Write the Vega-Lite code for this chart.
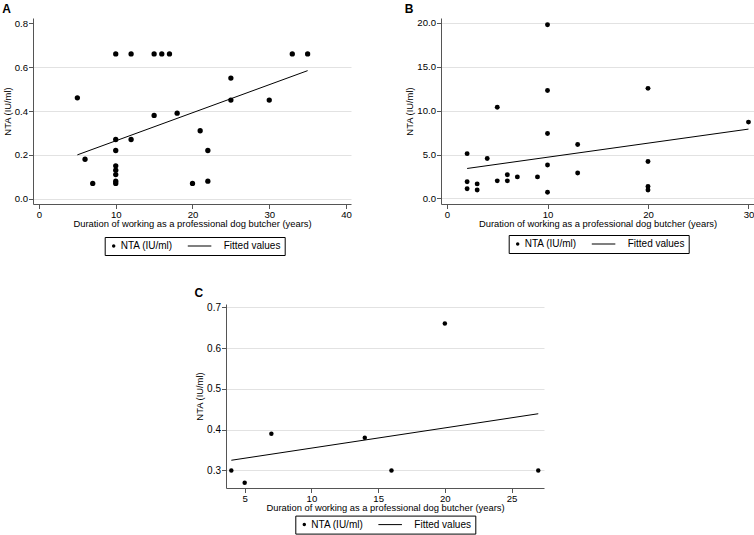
{
  "$schema": "https://vega.github.io/schema/vega-lite/v6.json",
  "background": "white",
  "padding": {"left": 2, "top": 2, "right": 0, "bottom": 0},
  "spacing": 31,
  "center": true,
  "resolve": {"scale": {"shape": "independent"}, "legend": {"shape": "independent"}},
  "config": {
    "font": "Liberation Sans",
    "view": {"stroke": null},
    "axis": {
      "labelFont": "Liberation Sans", "titleFont": "Liberation Sans",
      "labelColor": "black", "titleColor": "black", "titleFontWeight": "normal",
      "domainColor": "#555555", "tickColor": "#555555", "domainWidth": 1, "tickWidth": 1,
      "tickSize": 4.5, "labelFontSize": 9.6, "titleFontSize": 9.4,
      "labelPadding": 1, "titlePadding": 1, "gridColor": "#e2e2e2", "gridWidth": 1,
      "labelFlush": false, "labelOverlap": false
    },
    "axisX": {"grid": false, "labelPadding": 0.5},
    "axisY": {"grid": true, "titlePadding": 2},
    "legend": {
      "orient": "none", "direction": "horizontal", "strokeColor": "black", "padding": 4,
      "columnPadding": 14, "symbolSize": 12, "labelFontSize": 10, "labelOffset": 2,
      "labelFont": "Liberation Sans", "labelColor": "black", "cornerRadius": 0,
      "symbolStrokeWidth": 0, "symbolFillColor": "black"
    },
    "title": {"anchor": "start", "frame": "bounds", "fontSize": 12, "fontWeight": "bold", "font": "Liberation Sans", "baseline": "alphabetic", "offset": 2, "color": "black"}
  },
  "datasets": {
    "A": [
      {"x": 5, "y": 0.46, "series": "NTA (IU/ml)"}, {"x": 6, "y": 0.18, "series": "NTA (IU/ml)"},
      {"x": 7, "y": 0.07, "series": "NTA (IU/ml)"}, {"x": 10, "y": 0.66, "series": "NTA (IU/ml)"},
      {"x": 10, "y": 0.27, "series": "NTA (IU/ml)"}, {"x": 10, "y": 0.22, "series": "NTA (IU/ml)"},
      {"x": 10, "y": 0.15, "series": "NTA (IU/ml)"}, {"x": 10, "y": 0.13, "series": "NTA (IU/ml)"},
      {"x": 10, "y": 0.11, "series": "NTA (IU/ml)"}, {"x": 10, "y": 0.08, "series": "NTA (IU/ml)"},
      {"x": 10, "y": 0.07, "series": "NTA (IU/ml)"}, {"x": 12, "y": 0.66, "series": "NTA (IU/ml)"},
      {"x": 12, "y": 0.27, "series": "NTA (IU/ml)"}, {"x": 15, "y": 0.66, "series": "NTA (IU/ml)"},
      {"x": 15, "y": 0.38, "series": "NTA (IU/ml)"}, {"x": 16, "y": 0.66, "series": "NTA (IU/ml)"},
      {"x": 17, "y": 0.66, "series": "NTA (IU/ml)"}, {"x": 18, "y": 0.39, "series": "NTA (IU/ml)"},
      {"x": 20, "y": 0.07, "series": "NTA (IU/ml)"}, {"x": 21, "y": 0.31, "series": "NTA (IU/ml)"},
      {"x": 22, "y": 0.22, "series": "NTA (IU/ml)"}, {"x": 22, "y": 0.08, "series": "NTA (IU/ml)"},
      {"x": 25, "y": 0.55, "series": "NTA (IU/ml)"}, {"x": 25, "y": 0.45, "series": "NTA (IU/ml)"},
      {"x": 30, "y": 0.45, "series": "NTA (IU/ml)"}, {"x": 33, "y": 0.66, "series": "NTA (IU/ml)"},
      {"x": 35, "y": 0.66, "series": "NTA (IU/ml)"}
    ],
    "fitA": [{"x": 5, "y": 0.200}, {"x": 35, "y": 0.584}],
    "B": [
      {"x": 2, "y": 5.1, "series": "NTA (IU/ml)"}, {"x": 2, "y": 1.9, "series": "NTA (IU/ml)"},
      {"x": 2, "y": 1.1, "series": "NTA (IU/ml)"}, {"x": 3, "y": 1.65, "series": "NTA (IU/ml)"},
      {"x": 3, "y": 0.95, "series": "NTA (IU/ml)"}, {"x": 4, "y": 4.55, "series": "NTA (IU/ml)"},
      {"x": 5, "y": 10.4, "series": "NTA (IU/ml)"}, {"x": 5, "y": 2.0, "series": "NTA (IU/ml)"},
      {"x": 6, "y": 2.7, "series": "NTA (IU/ml)"}, {"x": 6, "y": 2.0, "series": "NTA (IU/ml)"},
      {"x": 7, "y": 2.45, "series": "NTA (IU/ml)"}, {"x": 9, "y": 2.45, "series": "NTA (IU/ml)"},
      {"x": 10, "y": 19.8, "series": "NTA (IU/ml)"}, {"x": 10, "y": 12.3, "series": "NTA (IU/ml)"},
      {"x": 10, "y": 7.4, "series": "NTA (IU/ml)"}, {"x": 10, "y": 3.8, "series": "NTA (IU/ml)"},
      {"x": 10, "y": 0.7, "series": "NTA (IU/ml)"}, {"x": 13, "y": 6.15, "series": "NTA (IU/ml)"},
      {"x": 13, "y": 2.9, "series": "NTA (IU/ml)"}, {"x": 20, "y": 12.55, "series": "NTA (IU/ml)"},
      {"x": 20, "y": 4.2, "series": "NTA (IU/ml)"}, {"x": 20, "y": 1.35, "series": "NTA (IU/ml)"},
      {"x": 20, "y": 0.95, "series": "NTA (IU/ml)"}, {"x": 30, "y": 8.7, "series": "NTA (IU/ml)"}
    ],
    "fitB": [{"x": 2, "y": 3.41}, {"x": 30, "y": 7.9}],
    "C": [
      {"x": 4, "y": 0.30, "series": "NTA (IU/ml)"}, {"x": 5, "y": 0.27, "series": "NTA (IU/ml)"},
      {"x": 7, "y": 0.39, "series": "NTA (IU/ml)"}, {"x": 14, "y": 0.38, "series": "NTA (IU/ml)"},
      {"x": 16, "y": 0.30, "series": "NTA (IU/ml)"}, {"x": 20, "y": 0.66, "series": "NTA (IU/ml)"},
      {"x": 27, "y": 0.30, "series": "NTA (IU/ml)"}
    ],
    "fitC": [{"x": 4, "y": 0.325}, {"x": 27, "y": 0.439}]
  },
  "vconcat": [
    {
      "spacing": 52,
      "resolve": {"scale": {"shape": "independent"}, "legend": {"shape": "independent"}},
      "hconcat": [
        {
          "title": "A",
          "width": 318, "height": 186,
          "layer": [
            {
              "data": {"name": "A"},
              "mark": {"type": "point", "filled": true, "color": "black", "size": 28, "opacity": 1},
              "encoding": {
                "x": {"field": "x", "type": "quantitative", "scale": {"domain": [-0.78, 40.65], "nice": false, "zero": false},
                      "axis": {"values": [0, 10, 20, 30, 40], "title": "Duration of working as a professional dog butcher (years)"}},
                "y": {"field": "y", "type": "quantitative", "scale": {"domain": [-0.024, 0.824], "nice": false, "zero": false},
                      "axis": {"values": [0, 0.2, 0.4, 0.6, 0.8], "format": ".1f", "title": "NTA (IU/ml)",
                               "gridColor": {"condition": {"test": "datum.value > 0.7", "value": "transparent"}, "value": "#e2e2e2"}}},
                "shape": {"field": "series", "type": "nominal",
                          "scale": {"domain": ["NTA (IU/ml)", "Fitted values"], "range": ["circle", "M-16.7,-0.29L-3.1,-0.29L-3.1,0.29L-16.7,0.29Z"]},
                          "legend": {"title": null, "legendX": 71.7, "legendY": 219}}
              }
            },
            {
              "data": {"name": "fitA"},
              "mark": {"type": "line", "color": "black", "strokeWidth": 1},
              "encoding": {"x": {"field": "x", "type": "quantitative"}, "y": {"field": "y", "type": "quantitative"}}
            }
          ]
        },
        {
          "title": "B",
          "width": 313, "height": 186,
          "layer": [
            {
              "data": {"name": "B"},
              "mark": {"type": "point", "filled": true, "color": "black", "size": 24, "opacity": 1},
              "encoding": {
                "x": {"field": "x", "type": "quantitative", "scale": {"domain": [-0.6, 30.55], "nice": false, "zero": false},
                      "axis": {"values": [0, 10, 20, 30], "title": "Duration of working as a professional dog butcher (years)"}},
                "y": {"field": "y", "type": "quantitative", "scale": {"domain": [-0.64, 20.57], "nice": false, "zero": false},
                      "axis": {"values": [0, 5, 10, 15, 20], "format": ".1f", "title": "NTA (IU/ml)"}},
                "shape": {"field": "series", "type": "nominal",
                          "scale": {"domain": ["NTA (IU/ml)", "Fitted values"], "range": ["circle", "M-16.7,-0.29L-3.1,-0.29L-3.1,0.29L-16.7,0.29Z"]},
                          "legend": {"title": null, "legendX": 67.7, "legendY": 217}}
              }
            },
            {
              "data": {"name": "fitB"},
              "mark": {"type": "line", "color": "black", "strokeWidth": 1},
              "encoding": {"x": {"field": "x", "type": "quantitative"}, "y": {"field": "y", "type": "quantitative"}}
            }
          ]
        }
      ]
    },
    {
      "title": "C",
      "width": 318, "height": 184,
      "resolve": {"axis": {"y": "independent"}},
      "layer": [
        {
          "data": {"name": "C"},
          "mark": {"type": "point", "filled": true, "color": "black", "size": 20, "opacity": 1},
          "encoding": {
            "x": {"field": "x", "type": "quantitative", "scale": {"domain": [3.6, 27.43], "nice": false, "zero": false},
                  "axis": {"values": [5, 10, 15, 20, 25], "title": "Duration of working as a professional dog butcher (years)"}},
            "y": {"field": "y", "type": "quantitative", "scale": {"domain": [0.257, 0.708], "nice": false, "zero": false},
                  "axis": {"values": [0.3, 0.4, 0.5, 0.6, 0.7], "format": ".1f", "title": "NTA (IU/ml)", "labelFontSize": 10}},
            "shape": {"field": "series", "type": "nominal",
                      "scale": {"domain": ["NTA (IU/ml)", "Fitted values"], "range": ["circle", "M-16.7,-0.29L-3.1,-0.29L-3.1,0.29L-16.7,0.29Z"]},
                      "legend": {"title": null, "legendX": 69.3, "legendY": 211.6}}
          }
        },
        {
          "data": {"name": "fitC"},
          "mark": {"type": "line", "color": "black", "strokeWidth": 1},
          "encoding": {
            "x": {"field": "x", "type": "quantitative"},
            "y": {"field": "y", "type": "quantitative",
                  "axis": {"orient": "right", "grid": false, "labels": false, "ticks": false, "title": null, "domainColor": "transparent", "offset": 17}}
          }
        }
      ]
    }
  ]
}
